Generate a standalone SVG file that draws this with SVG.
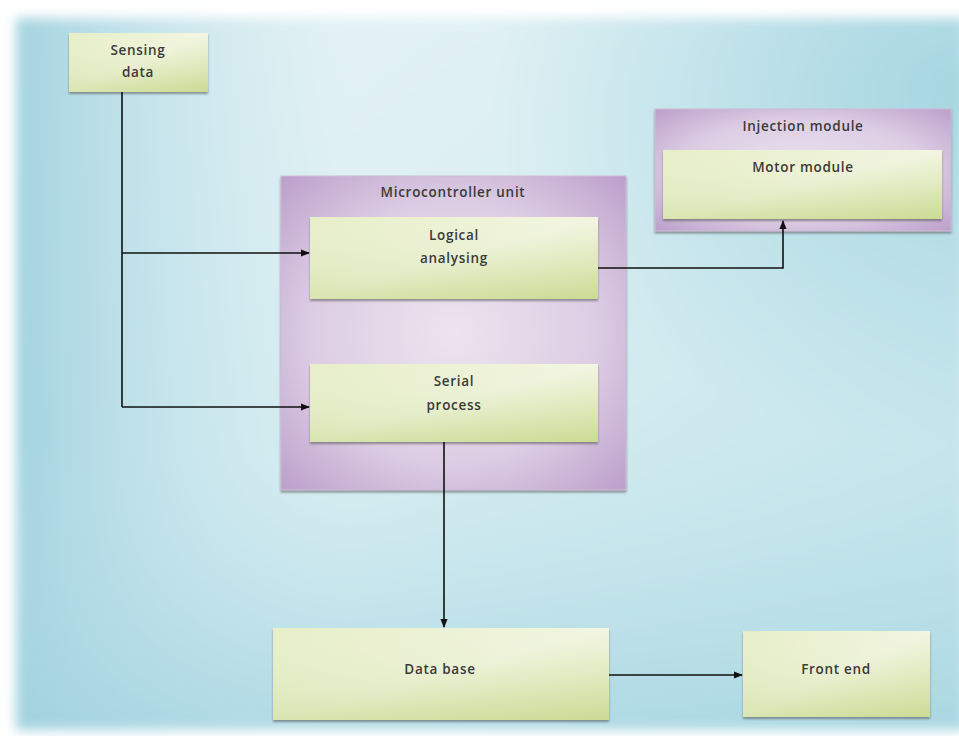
<svg xmlns="http://www.w3.org/2000/svg" width="959" height="736" viewBox="0 0 959 736">
<defs>
<linearGradient id="bg" x1="0" y1="0" x2="1" y2="1">
<stop offset="0" stop-color="#e9f4f6"/>
<stop offset="0.45" stop-color="#d9eef2"/>
<stop offset="1" stop-color="#b9e0e8"/>
</linearGradient>
<linearGradient id="bg2" x1="0" y1="0" x2="1" y2="0">
<stop offset="0" stop-color="#9dd0de" stop-opacity="0.9"/>
<stop offset="0.35" stop-color="#bfe2ea" stop-opacity="0"/>
</linearGradient>
<linearGradient id="bg3" x1="0" y1="1" x2="0" y2="0">
<stop offset="0" stop-color="#9fd1de" stop-opacity="0.6"/>
<stop offset="0.4" stop-color="#bfe2ea" stop-opacity="0"/>
</linearGradient>
<radialGradient id="bg4" cx="1" cy="0.1" r="0.5">
<stop offset="0" stop-color="#a6d6e1"/>
<stop offset="1" stop-color="#a6d6e1" stop-opacity="0"/>
</radialGradient>
<linearGradient id="green" x1="0" y1="0" x2="1" y2="1">
<stop offset="0" stop-color="#dfe9b5"/>
<stop offset="0.5" stop-color="#eef3d8"/>
<stop offset="1" stop-color="#d2e0a0"/>
</linearGradient>
<linearGradient id="green2" x1="0" y1="0" x2="0" y2="1">
<stop offset="0" stop-color="#ffffff" stop-opacity="0.25"/>
<stop offset="1" stop-color="#c4d68a" stop-opacity="0.5"/>
</linearGradient>
<radialGradient id="purple" cx="0.5" cy="0.5" r="0.75">
<stop offset="0" stop-color="#ece4ee"/>
<stop offset="0.55" stop-color="#ddcde4"/>
<stop offset="1" stop-color="#b698c6"/>
</radialGradient>
<filter id="sh" x="-5%" y="-5%" width="110%" height="120%">
<feDropShadow dx="0" dy="2" stdDeviation="1" flood-color="#555" flood-opacity="0.6"/>
</filter>
<filter id="blur"><feGaussianBlur stdDeviation="6"/></filter>
<marker id="arr" viewBox="0 0 10 10" refX="9" refY="5" markerWidth="9" markerHeight="9" orient="auto" markerUnits="userSpaceOnUse">
<path d="M0,1 L10,5 L0,9 z" fill="#111"/>
</marker>
<style>
text{font-family:"Open Sans","Liberation Sans",sans-serif;font-size:13.5px;font-weight:600;fill:#3a3a3a;text-anchor:middle;letter-spacing:0.7px}
.g{fill:url(#green);filter:url(#sh)}
.g2{fill:url(#green2)}
.p{fill:url(#purple);stroke:#cdbcd6;stroke-width:1;filter:url(#sh)}
.c{stroke:#111;stroke-width:1.6;fill:none}
</style>
</defs>
<rect width="959" height="736" fill="#ffffff"/>
<g filter="url(#blur)">
<rect x="16" y="18" width="950" height="712" fill="url(#bg)"/>
<rect x="16" y="18" width="950" height="712" fill="url(#bg2)"/>
<rect x="16" y="18" width="950" height="712" fill="url(#bg3)"/>
<rect x="16" y="18" width="950" height="712" fill="url(#bg4)"/>
</g>
<g id="sensing">
<rect class="g" x="69" y="33" width="139" height="59"/>
<rect class="g2" x="69" y="33" width="139" height="59"/>
<text x="138" y="55">Sensing</text>
<text x="138" y="77">data</text>
</g>
<g id="mcu">
<rect class="p" x="281" y="176" width="345" height="314"/>
<text x="453" y="197">Microcontroller unit</text>
</g>
<g id="logical">
<rect class="g" x="310" y="217" width="288" height="82"/>
<rect class="g2" x="310" y="217" width="288" height="82"/>
<text x="454" y="240">Logical</text>
<text x="454" y="263">analysing</text>
</g>
<g id="serial">
<rect class="g" x="310" y="364" width="288" height="78"/>
<rect class="g2" x="310" y="364" width="288" height="78"/>
<text x="454" y="386">Serial</text>
<text x="454" y="410">process</text>
</g>
<g id="injection">
<rect class="p" x="655" y="109" width="296" height="122"/>
<text x="803" y="131">Injection module</text>
</g>
<g id="motor">
<rect class="g" x="663" y="150" width="279" height="69"/>
<rect class="g2" x="663" y="150" width="279" height="69"/>
<text x="803" y="172">Motor module</text>
</g>
<g id="database">
<rect class="g" x="273" y="628" width="336" height="92"/>
<rect class="g2" x="273" y="628" width="336" height="92"/>
<text x="440" y="674">Data base</text>
</g>
<g id="frontend">
<rect class="g" x="743" y="631" width="187" height="86"/>
<rect class="g2" x="743" y="631" width="187" height="86"/>
<text x="836" y="674">Front end</text>
</g>
<g id="connectors">
<path class="c" d="M122,92 V407"/>
<path class="c" d="M122,253 H309" marker-end="url(#arr)"/>
<path class="c" d="M122,407 H309" marker-end="url(#arr)"/>
<path class="c" d="M598,268 H783 V221" marker-end="url(#arr)"/>
<path class="c" d="M444,442 V627" marker-end="url(#arr)"/>
<path class="c" d="M609,675 H742" marker-end="url(#arr)"/>
</g>
</svg>
